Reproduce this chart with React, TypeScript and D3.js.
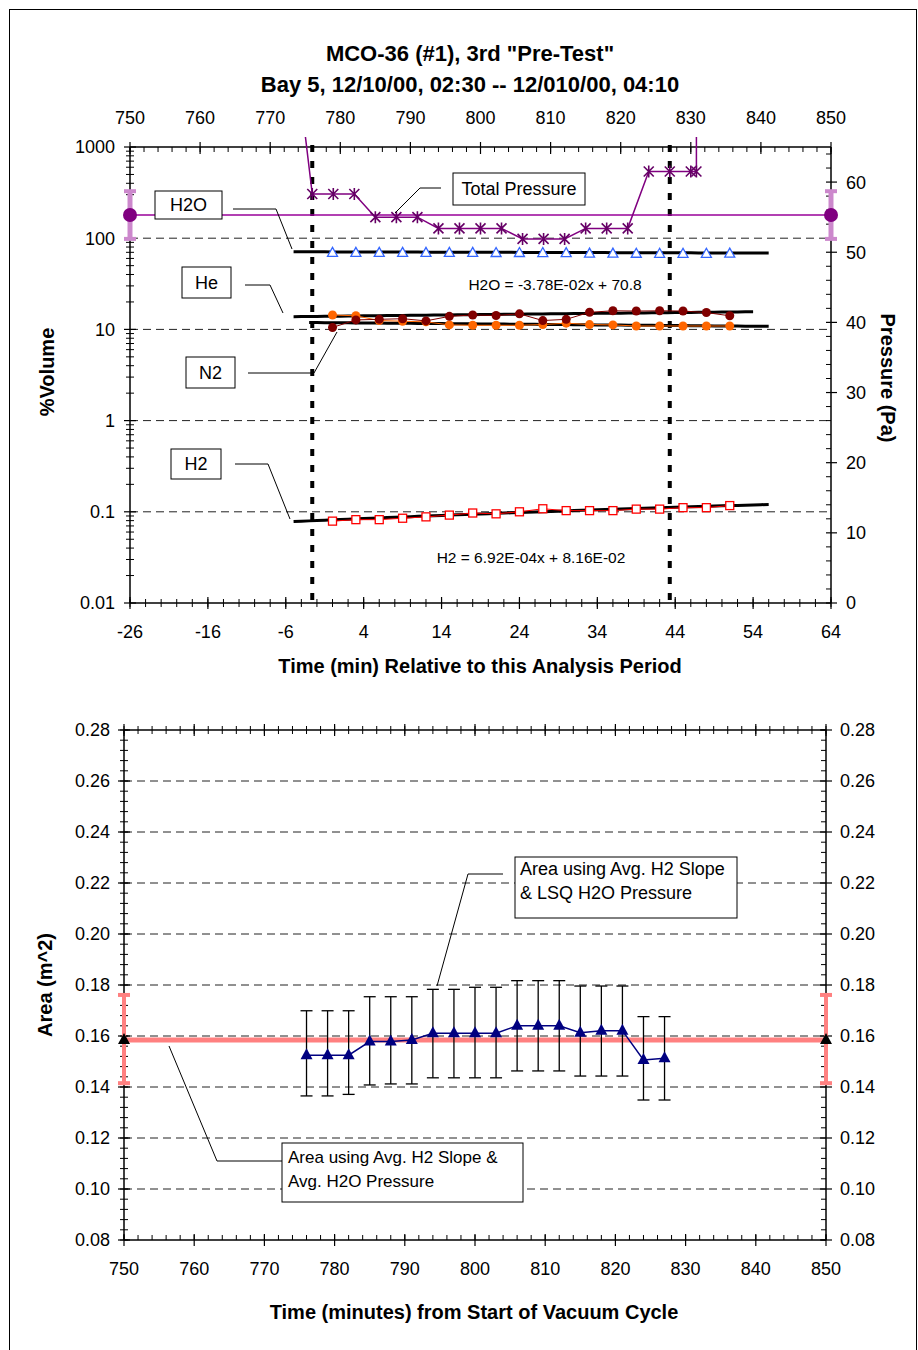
import React from 'react';
import * as d3 from 'd3';

// ---------- titles ----------
const titleLines = ['MCO-36 (#1), 3rd "Pre-Test"', 'Bay 5, 12/10/00, 02:30 -- 12/010/00, 04:10'];

// ---------- top chart data ----------
const relTime = [0, 3, 6, 9, 12, 15, 18, 21, 24, 27, 30, 33, 36, 39, 42, 45, 48, 51];
const h2oPct = [70.0, 70.0, 70.0, 69.9, 69.9, 69.8, 69.8, 69.7, 69.7, 69.6, 69.5, 68.6, 68.5, 68.4, 68.3, 68.3, 68.3, 68.6];
const hePct = [10.5, 12.7, 12.9, 13.1, 12.4, 13.9, 14.4, 14.2, 14.8, 12.5, 12.9, 15.4, 16.0, 15.9, 16.0, 15.9, 15.3, 14.1];
const n2Pct = [14.4, 14.1, 12.5, 12.3, 12.1, 11.2, 11.1, 11.1, 11.1, 11.3, 11.7, 11.3, 11.2, 10.9, 10.9, 10.9, 10.9, 10.9];
const h2Pct = [0.079, 0.082, 0.082, 0.085, 0.088, 0.092, 0.097, 0.095, 0.100, 0.108, 0.103, 0.103, 0.103, 0.107, 0.107, 0.111, 0.111, 0.117];

const pressureTime = [774, 776, 779, 782, 785, 788, 791, 794, 797, 800, 803, 806, 809, 812, 815, 818, 821, 824, 827, 830, 830.8, 830.8];
const totalPressure = [75, 58.3, 58.3, 58.3, 55.0, 55.0, 55.0, 53.4, 53.4, 53.4, 53.4, 51.9, 51.9, 51.9, 53.4, 53.4, 53.4, 61.5, 61.5, 61.5, 61.5, 90];

const h2oAvgPressure = 55.3;
const h2oAvgPressureErr = [51.9, 58.7];
const h2oAvgTime = [750, 850];

const analysisWindow = [776, 827];

// linear fits [slope, intercept] and their drawn ranges (relative minutes)
const h2oFitCoef = [-3.78e-2, 70.8];
const h2FitCoef = [6.92e-4, 8.16e-2];
const heFitCoef = [0.0305, 13.95];
const n2FitCoef = [-0.0186, 11.84];
const h2oFitRange = [-5, 56];
const h2FitRange = [-5, 56];
const heFitRange = [-5, 54];
const n2FitRange = [-3, 56];

const relTicks = [-26, -16, -6, 4, 14, 24, 34, 44, 54, 64];
const absTicks = [750, 760, 770, 780, 790, 800, 810, 820, 830, 840, 850];
const logTicks = [0.01, 0.1, 1, 10, 100, 1000];
const pressureTicks = [0, 10, 20, 30, 40, 50, 60];

// ---------- bottom chart data ----------
const areaTime = [776, 779, 782, 785, 788, 791, 794, 797, 800, 803, 806, 809, 812, 815, 818, 821, 824, 827];
const areaLsq = [0.1525, 0.1525, 0.1525, 0.1578, 0.1578, 0.1584, 0.1611, 0.1611, 0.1611, 0.1611, 0.164, 0.164, 0.164, 0.1613, 0.1621, 0.1621, 0.1506, 0.1513];
const areaHigh = [0.1699, 0.1699, 0.1699, 0.1754, 0.1754, 0.1754, 0.1783, 0.1783, 0.1791, 0.1791, 0.1817, 0.1817, 0.1817, 0.1796, 0.1796, 0.1796, 0.1676, 0.1676];
const areaLow = [0.1365, 0.1365, 0.1371, 0.1408, 0.1412, 0.1412, 0.1436, 0.1436, 0.1436, 0.1436, 0.1463, 0.1463, 0.1463, 0.1443, 0.1443, 0.1443, 0.1349, 0.1349];
const areaAvg = 0.1584;
const areaAvgErr = [0.1415, 0.1761];
const areaAvgTime = [750, 850];
const areaTicks = [0.08, 0.10, 0.12, 0.14, 0.16, 0.18, 0.20, 0.22, 0.24, 0.26, 0.28];

const FONT = 'Liberation Sans, Arial, Helvetica, sans-serif';

const asterisk = 'M-5,-5L5,5M-5,5L5,-5M0,-6L0,6';
const triOpen = 'M0,-5L5,4L-5,4Z';
const triFill = 'M0,-7L6,4L-6,4Z';

function fitPoints(coef: number[], range: number[]) {
  const pts: [number, number][] = [];
  for (let t = range[0]; t <= range[1] + 1e-9; t += 1) pts.push([t, coef[0] * t + coef[1]]);
  return pts;
}

export default function App() {
  // top chart scales
  const xRel = d3.scaleLinear().domain([-26, 64]).range([130, 831]);
  const xAbs = d3.scaleLinear().domain([750, 850]).range([130, 831]);
  const yLog = d3.scaleLog().domain([0.01, 1000]).range([603, 147]);
  const yP = d3.scaleLinear().domain([0, 65]).range([603, 147]);
  const tL = 130, tR = 831, tT = 147, tB = 603;

  // bottom chart scales
  const xB = d3.scaleLinear().domain([750, 850]).range([124, 826]);
  const yB = d3.scaleLinear().domain([0.08, 0.28]).range([1240, 730]);
  const bL = 124, bR = 826, bT = 730, bB = 1240;

  const relLine = (ys: number[]) =>
    d3.line<number>().x((_, i) => xRel(relTime[i])).y((d) => yLog(d))(ys) || '';
  const fitPath = (coef: number[], range: number[]) =>
    d3.line<[number, number]>().x((d) => xRel(d[0])).y((d) => yLog(d[1]))(fitPoints(coef, range)) || '';
  const pressPath =
    d3.line<number>().x((_, i) => xAbs(pressureTime[i])).y((d) => yP(d))(totalPressure) || '';
  const areaPath =
    d3.line<number>().x((_, i) => xB(areaTime[i])).y((d) => yB(d))(areaLsq) || '';

  const relMinor = d3.range(-26, 65, 2);
  const absMinor = d3.range(750, 851, 2);
  const logMinor = yLog.ticks().filter((v) => !logTicks.some((m) => Math.abs(m - v) / m < 1e-6));
  const pMinor = d3.range(0, 66, 2).filter((v) => v % 10 !== 0);
  const areaMinor = d3.range(0, 51).map((i) => 0.08 + i * 0.004);

  const gridStyle = { stroke: '#222', strokeWidth: 1, strokeDasharray: '8,5' };
  const ax = { stroke: '#000', strokeWidth: 1.5 };
  const TK = 18;

  return (
    <svg width={918} height={1350} style={{ position: 'absolute', left: 0, top: 0, background: '#fff' }} fontFamily={FONT}>
      <defs>
        <clipPath id="topclip">
          <rect x={tL} y={137} width={tR - tL} height={tB - 137} />
        </clipPath>
      </defs>
      <rect x={9.5} y={9.5} width={907} height={1360} fill="#fff" stroke="#000" strokeWidth={1} />

      {/* title */}
      <text x={470} y={61} textAnchor="middle" fontWeight="bold" fontSize={22}>{titleLines[0]}</text>
      <text x={470} y={92} textAnchor="middle" fontWeight="bold" fontSize={22}>{titleLines[1]}</text>

      {/* ================= TOP CHART ================= */}
      {logTicks.filter((v) => v > 0.01 && v < 1000).map((v) => (
        <line key={'g' + v} x1={tL} x2={tR} y1={yLog(v)} y2={yLog(v)} {...gridStyle} />
      ))}

      <line x1={tL} x2={tR} y1={tT} y2={tT} {...ax} />
      <line x1={tL} x2={tR} y1={tB} y2={tB} {...ax} />
      <line x1={tL} x2={tL} y1={tT} y2={tB} {...ax} />
      <line x1={tR} x2={tR} y1={tT} y2={tB} {...ax} />

      {absMinor.map((v) => (
        <line key={'am' + v} x1={xAbs(v)} x2={xAbs(v)} y1={tT} y2={tT + 5} stroke="#000" />
      ))}
      {absTicks.map((v) => (
        <g key={'at' + v}>
          <line x1={xAbs(v)} x2={xAbs(v)} y1={tT - 5} y2={tT + 7} stroke="#000" strokeWidth={1.2} />
          <text x={xAbs(v)} y={124} textAnchor="middle" fontSize={TK}>{v}</text>
        </g>
      ))}

      {relMinor.map((v) => (
        <line key={'rm' + v} x1={xRel(v)} x2={xRel(v)} y1={tB - 4} y2={tB + 4} stroke="#000" />
      ))}
      {relTicks.map((v) => (
        <g key={'rt' + v}>
          <line x1={xRel(v)} x2={xRel(v)} y1={tB - 6} y2={tB + 6} stroke="#000" strokeWidth={1.2} />
          <text x={xRel(v)} y={638} textAnchor="middle" fontSize={TK}>{v}</text>
        </g>
      ))}

      {logMinor.map((v, i) => (
        <line key={'lm' + i} x1={tL - 4} x2={tL + 4} y1={yLog(v)} y2={yLog(v)} stroke="#000" />
      ))}
      {logTicks.map((v) => (
        <g key={'lt' + v}>
          <line x1={tL - 6} x2={tL + 6} y1={yLog(v)} y2={yLog(v)} stroke="#000" strokeWidth={1.2} />
          <text x={115} y={yLog(v)} dy="0.36em" textAnchor="end" fontSize={TK}>{String(v)}</text>
        </g>
      ))}

      {pMinor.map((v) => (
        <line key={'pm' + v} x1={tR - 5} x2={tR} y1={yP(v)} y2={yP(v)} stroke="#000" />
      ))}
      {pressureTicks.map((v) => (
        <g key={'pt' + v}>
          <line x1={tR - 5} x2={tR + 6} y1={yP(v)} y2={yP(v)} stroke="#000" strokeWidth={1.2} />
          <text x={846} y={yP(v)} dy="0.36em" textAnchor="start" fontSize={TK}>{v}</text>
        </g>
      ))}

      <text x={480} y={673} textAnchor="middle" fontWeight="bold" fontSize={20}>Time (min) Relative to this Analysis Period</text>
      <text transform="translate(54,372) rotate(-90)" textAnchor="middle" fontWeight="bold" fontSize={20}>%Volume</text>
      <text transform="translate(881,378) rotate(90)" textAnchor="middle" fontWeight="bold" fontSize={20}>Pressure (Pa)</text>

      {analysisWindow.map((v) => (
        <line key={'aw' + v} x1={xAbs(v)} x2={xAbs(v)} y1={tT - 2} y2={tB} stroke="#000" strokeWidth={4} strokeDasharray="7,9" />
      ))}

      <line x1={xAbs(h2oAvgTime[0])} x2={xAbs(h2oAvgTime[1])} y1={yP(h2oAvgPressure)} y2={yP(h2oAvgPressure)} stroke="#990099" strokeWidth={1.5} />
      {h2oAvgTime.map((t) => (
        <g key={'hav' + t}>
          <line x1={xAbs(t)} x2={xAbs(t)} y1={yP(h2oAvgPressureErr[0])} y2={yP(h2oAvgPressureErr[1])} stroke="#CC88CC" strokeWidth={5} />
          <line x1={xAbs(t) - 6} x2={xAbs(t) + 6} y1={yP(h2oAvgPressureErr[0])} y2={yP(h2oAvgPressureErr[0])} stroke="#CC88CC" strokeWidth={4} />
          <line x1={xAbs(t) - 6} x2={xAbs(t) + 6} y1={yP(h2oAvgPressureErr[1])} y2={yP(h2oAvgPressureErr[1])} stroke="#CC88CC" strokeWidth={4} />
          <circle cx={xAbs(t)} cy={yP(h2oAvgPressure)} r={7} fill="#800080" />
        </g>
      ))}

      <g clipPath="url(#topclip)">
        <path d={pressPath} fill="none" stroke="#800080" strokeWidth={1.5} />
      </g>
      {totalPressure.map((p, i) =>
        p <= 65 && pressureTime[i] >= 776 ? (
          <path key={'tp' + i} d={asterisk} transform={`translate(${xAbs(pressureTime[i])},${yP(p)})`} stroke="#660066" strokeWidth={1.6} fill="none" />
        ) : null
      )}

      <path d={fitPath(h2oFitCoef, h2oFitRange)} fill="none" stroke="#000" strokeWidth={3} />
      <path d={fitPath(heFitCoef, heFitRange)} fill="none" stroke="#000" strokeWidth={3} />
      <path d={fitPath(n2FitCoef, n2FitRange)} fill="none" stroke="#000" strokeWidth={3} />
      <path d={fitPath(h2FitCoef, h2FitRange)} fill="none" stroke="#000" strokeWidth={3} />

      <path d={relLine(n2Pct)} fill="none" stroke="#FF6600" strokeWidth={1} />
      {n2Pct.map((v, i) => (
        <circle key={'n2' + i} cx={xRel(relTime[i])} cy={yLog(v)} r={4.5} fill="#FF6600" />
      ))}
      <path d={relLine(hePct)} fill="none" stroke="#800000" strokeWidth={1} />
      {hePct.map((v, i) => (
        <circle key={'he' + i} cx={xRel(relTime[i])} cy={yLog(v)} r={4.5} fill="#800000" />
      ))}
      {h2oPct.map((v, i) => (
        <path key={'h2o' + i} d={triOpen} transform={`translate(${xRel(relTime[i])},${yLog(v)})`} fill="#fff" stroke="#3366FF" strokeWidth={1.3} />
      ))}
      <path d={relLine(h2Pct)} fill="none" stroke="#FF0000" strokeWidth={1} />
      {h2Pct.map((v, i) => (
        <rect key={'h2' + i} x={xRel(relTime[i]) - 4} y={yLog(v) - 4} width={8} height={8} fill="#fff" stroke="#FF0000" strokeWidth={1.3} />
      ))}

      <text x={555} y={290} textAnchor="middle" fontSize={15.5}>H2O = -3.78E-02x + 70.8</text>
      <text x={531} y={563} textAnchor="middle" fontSize={15.5}>H2 = 6.92E-04x + 8.16E-02</text>

      <polyline points="233,209 276,209 292,249" fill="none" stroke="#000" strokeWidth={1} />
      <rect x={155} y={191} width={67} height={28} fill="#fff" stroke="#000" />
      <text x={188.5} y={205} dy="0.36em" textAnchor="middle" fontSize={TK}>H2O</text>

      <polyline points="441,188 420,188 395,213" fill="none" stroke="#000" strokeWidth={1} />
      <rect x={453} y={173} width={132} height={32} fill="#fff" stroke="#000" />
      <text x={519} y={189} dy="0.36em" textAnchor="middle" fontSize={TK}>Total Pressure</text>

      <polyline points="245,285 270,285 283,313" fill="none" stroke="#000" strokeWidth={1} />
      <rect x={182} y={267} width={49} height={31} fill="#fff" stroke="#000" />
      <text x={206.5} y={282.5} dy="0.36em" textAnchor="middle" fontSize={TK}>He</text>

      <polyline points="248,373 314,373 337,332" fill="none" stroke="#000" strokeWidth={1} />
      <rect x={186} y={357} width={49} height={31} fill="#fff" stroke="#000" />
      <text x={210.5} y={372.5} dy="0.36em" textAnchor="middle" fontSize={TK}>N2</text>

      <polyline points="235,464 268,464 290,519" fill="none" stroke="#000" strokeWidth={1} />
      <rect x={171} y={449} width={50} height={30} fill="#fff" stroke="#000" />
      <text x={196} y={464} dy="0.36em" textAnchor="middle" fontSize={TK}>H2</text>

      {/* ================= BOTTOM CHART ================= */}
      {areaTicks.filter((v) => v > 0.081 && v < 0.279).map((v) => (
        <line key={'bg' + v} x1={bL} x2={bR} y1={yB(v)} y2={yB(v)} {...gridStyle} />
      ))}
      <line x1={bL} x2={bR} y1={bT} y2={bT} {...ax} />
      <line x1={bL} x2={bR} y1={bB} y2={bB} {...ax} />
      <line x1={bL} x2={bL} y1={bT} y2={bB} {...ax} />
      <line x1={bR} x2={bR} y1={bT} y2={bB} {...ax} />

      {absMinor.map((v) => (
        <g key={'bm' + v}>
          <line x1={xB(v)} x2={xB(v)} y1={bT - 4} y2={bT + 4} stroke="#000" />
          <line x1={xB(v)} x2={xB(v)} y1={bB - 5} y2={bB} stroke="#000" />
        </g>
      ))}
      {absTicks.map((v) => (
        <g key={'bt' + v}>
          <line x1={xB(v)} x2={xB(v)} y1={bT - 6} y2={bT + 6} stroke="#000" strokeWidth={1.2} />
          <line x1={xB(v)} x2={xB(v)} y1={bB - 6} y2={bB + 6} stroke="#000" strokeWidth={1.2} />
          <text x={xB(v)} y={1275} textAnchor="middle" fontSize={TK}>{v}</text>
        </g>
      ))}
      {areaMinor.map((v, i) => (
        <g key={'bym' + i}>
          <line x1={bL - 4} x2={bL + 4} y1={yB(v)} y2={yB(v)} stroke="#000" />
          <line x1={bR - 5} x2={bR} y1={yB(v)} y2={yB(v)} stroke="#000" />
        </g>
      ))}
      {areaTicks.map((v) => (
        <g key={'byt' + v}>
          <line x1={bL - 6} x2={bL + 6} y1={yB(v)} y2={yB(v)} stroke="#000" strokeWidth={1.2} />
          <line x1={bR - 6} x2={bR + 6} y1={yB(v)} y2={yB(v)} stroke="#000" strokeWidth={1.2} />
          <text x={110} y={yB(v)} dy="0.36em" textAnchor="end" fontSize={TK}>{d3.format('.2f')(v)}</text>
          <text x={840} y={yB(v)} dy="0.36em" textAnchor="start" fontSize={TK}>{d3.format('.2f')(v)}</text>
        </g>
      ))}

      <text x={474} y={1319} textAnchor="middle" fontWeight="bold" fontSize={20}>Time (minutes) from Start of Vacuum Cycle</text>
      <text transform="translate(52,985) rotate(-90)" textAnchor="middle" fontWeight="bold" fontSize={20}>Area (m^2)</text>

      <line x1={xB(areaAvgTime[0])} x2={xB(areaAvgTime[1])} y1={yB(areaAvg)} y2={yB(areaAvg)} stroke="#FF8080" strokeWidth={5} />
      {areaAvgTime.map((t) => (
        <g key={'aa' + t}>
          <line x1={xB(t)} x2={xB(t)} y1={yB(areaAvgErr[0])} y2={yB(areaAvgErr[1])} stroke="#FF8080" strokeWidth={4} />
          <line x1={xB(t) - 6} x2={xB(t) + 6} y1={yB(areaAvgErr[0])} y2={yB(areaAvgErr[0])} stroke="#FF8080" strokeWidth={4} />
          <line x1={xB(t) - 6} x2={xB(t) + 6} y1={yB(areaAvgErr[1])} y2={yB(areaAvgErr[1])} stroke="#FF8080" strokeWidth={4} />
          <path d={triFill} transform={`translate(${xB(t)},${yB(areaAvg)})`} fill="#000" />
        </g>
      ))}

      {areaTime.map((t, i) => (
        <g key={'eb' + i} stroke="#000" strokeWidth={1.3}>
          <line x1={xB(t)} x2={xB(t)} y1={yB(areaLow[i])} y2={yB(areaHigh[i])} />
          <line x1={xB(t) - 6} x2={xB(t) + 6} y1={yB(areaLow[i])} y2={yB(areaLow[i])} />
          <line x1={xB(t) - 6} x2={xB(t) + 6} y1={yB(areaHigh[i])} y2={yB(areaHigh[i])} />
        </g>
      ))}
      <path d={areaPath} fill="none" stroke="#000080" strokeWidth={1.5} />
      {areaLsq.map((v, i) => (
        <path key={'al' + i} d={triFill} transform={`translate(${xB(areaTime[i])},${yB(v)})`} fill="#000080" />
      ))}

      <polyline points="503,874 468,874 437,986" fill="none" stroke="#000" strokeWidth={1} />
      <rect x={515} y={857} width={222} height={61} fill="#fff" stroke="#000" />
      <text x={520} y={875} fontSize={TK}>Area using Avg. H2 Slope</text>
      <text x={520} y={899} fontSize={TK}>&amp; LSQ H2O Pressure</text>

      <polyline points="282,1161 217,1161 169,1046" fill="none" stroke="#000" strokeWidth={1} />
      <rect x={282} y={1143} width={241} height={59} fill="#fff" stroke="#000" />
      <text x={288} y={1163} fontSize={17}>Area using Avg. H2 Slope &amp;</text>
      <text x={288} y={1187} fontSize={17}>Avg. H2O Pressure</text>
    </svg>
  );
}
